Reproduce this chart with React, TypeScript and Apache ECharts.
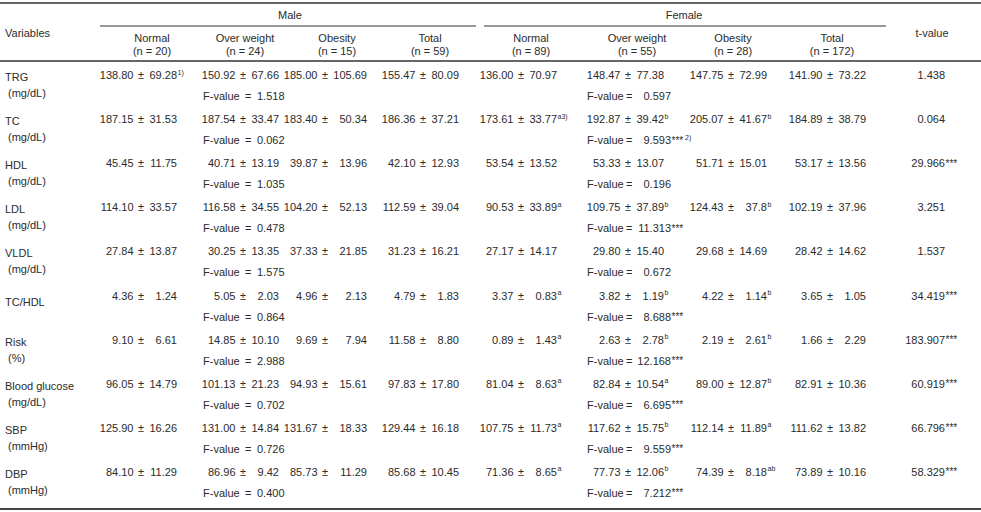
import React, { useEffect, useRef } from "react";
import * as echarts from "echarts";

const variables = ["TRG", "TC", "HDL", "LDL", "VLDL", "TC/HDL", "Risk", "Blood glucose", "SBP", "DBP"];
const units = ["(mg/dL)", "(mg/dL)", "(mg/dL)", "(mg/dL)", "(mg/dL)", "", "(%)", "(mg/dL)", "(mmHg)", "(mmHg)"];

const groupNames = ["Normal", "Over weight", "Obesity", "Total"];
const maleCounts = ["(n = 20)", "(n = 24)", "(n = 15)", "(n = 59)"];
const femaleCounts = ["(n = 89)", "(n = 55)", "(n = 28)", "(n = 172)"];

const maleNormalMean = ["138.80", "187.15", "45.45", "114.10", "27.84", "4.36", "9.10", "96.05", "125.90", "84.10"];
const maleNormalSd = ["69.28", "31.53", "11.75", "33.57", "13.87", "1.24", "6.61", "14.79", "16.26", "11.29"];
const maleNormalSup = ["1)", "", "", "", "", "", "", "", "", ""];
const maleOverMean = ["150.92", "187.54", "40.71", "116.58", "30.25", "5.05", "14.85", "101.13", "131.00", "86.96"];
const maleOverSd = ["67.66", "33.47", "13.19", "34.55", "13.35", "2.03", "10.10", "21.23", "14.84", "9.42"];
const maleObeseMean = ["185.00", "183.40", "39.87", "104.20", "37.33", "4.96", "9.69", "94.93", "131.67", "85.73"];
const maleObeseSd = ["105.69", "50.34", "13.96", "52.13", "21.85", "2.13", "7.94", "15.61", "18.33", "11.29"];
const maleTotalMean = ["155.47", "186.36", "42.10", "112.59", "31.23", "4.79", "11.58", "97.83", "129.44", "85.68"];
const maleTotalSd = ["80.09", "37.21", "12.93", "39.04", "16.21", "1.83", "8.80", "17.80", "16.18", "10.45"];
const maleF = ["1.518", "0.062", "1.035", "0.478", "1.575", "0.864", "2.988", "0.702", "0.726", "0.400"];

const femaleNormalMean = ["136.00", "173.61", "53.54", "90.53", "27.17", "3.37", "0.89", "81.04", "107.75", "71.36"];
const femaleNormalSd = ["70.97", "33.77", "13.52", "33.89", "14.17", "0.83", "1.43", "8.63", "11.73", "8.65"];
const femaleNormalSup = ["", "a3)", "", "a", "", "a", "a", "a", "a", "a"];
const femaleOverMean = ["148.47", "192.87", "53.33", "109.75", "29.80", "3.82", "2.63", "82.84", "117.62", "77.73"];
const femaleOverSd = ["77.38", "39.42", "13.07", "37.89", "15.40", "1.19", "2.78", "10.54", "15.75", "12.06"];
const femaleOverSup = ["", "b", "", "b", "", "b", "b", "a", "b", "b"];
const femaleObeseMean = ["147.75", "205.07", "51.71", "124.43", "29.68", "4.22", "2.19", "89.00", "112.14", "74.39"];
const femaleObeseSd = ["72.99", "41.67", "15.01", "37.8", "14.69", "1.14", "2.61", "12.87", "11.89", "8.18"];
const femaleObeseSup = ["", "b", "", "b", "", "b", "b", "b", "a", "ab"];
const femaleTotalMean = ["141.90", "184.89", "53.17", "102.19", "28.42", "3.65", "1.66", "82.91", "111.62", "73.89"];
const femaleTotalSd = ["73.22", "38.79", "13.56", "37.96", "14.62", "1.05", "2.29", "10.36", "13.82", "10.16"];
const femaleF = ["0.597", "9.593", "0.196", "11.313", "0.672", "8.688", "12.168", "6.695", "9.559", "7.212"];
const femaleFStars = ["", "***", "", "***", "", "***", "***", "***", "***", "***"];
const femaleFSup = ["", "2)", "", "", "", "", "", "", "", ""];
const tValues = ["1.438", "0.064", "29.966", "3.251", "1.537", "34.419", "183.907", "60.919", "66.796", "58.329"];
const tStars = ["", "", "***", "", "", "***", "***", "***", "***", "***"];

const FONT = "'Liberation Sans', Arial, sans-serif";
const INK = "#2b2b2b";
const FS = 11;

function txt(x: number, y: number, text: string, align: string = "left", size: number = FS) {
  return {
    type: "text",
    x,
    y,
    silent: true,
    style: { text, fill: INK, font: `${size}px ${FONT}`, textAlign: align, textVerticalAlign: "middle" },
  };
}

function hline(x1: number, x2: number, y: number, w: number, color: string) {
  return { type: "line", silent: true, shape: { x1, y1: y, x2, y2: y }, style: { stroke: color, lineWidth: w } };
}

export default function App() {
  const ref = useRef<HTMLDivElement>(null);
  useEffect(() => {
    if (!ref.current) return;
    const chart = echarts.init(ref.current, undefined, { renderer: "svg" });
    const els: any[] = [];

    // rules
    els.push(hline(0, 981, 3, 2, "#666"));
    els.push(hline(100, 476, 26, 1, "#333"));
    els.push(hline(484, 886, 26, 1, "#333"));
    els.push(hline(0, 981, 61, 1.5, "#333"));
    els.push(hline(0, 981, 509, 2, "#444"));

    // header
    els.push(txt(5, 33, "Variables"));
    els.push(txt(290, 15, "Male", "center"));
    els.push(txt(684, 15, "Female", "center"));
    els.push(txt(932, 33, "t-value", "center"));
    const maleHead = [152, 245, 337, 430];
    const femaleHead = [531, 637, 733, 832];
    groupNames.forEach((g, i) => {
      els.push(txt(maleHead[i], 38, g, "center"));
      els.push(txt(maleHead[i], 51, maleCounts[i], "center"));
      els.push(txt(femaleHead[i], 38, g, "center"));
      els.push(txt(femaleHead[i], 51, femaleCounts[i], "center"));
    });

    const cols = [
      { c: 141, w: 36, m: maleNormalMean, s: maleNormalSd, sup: maleNormalSup },
      { c: 243, w: 36, m: maleOverMean, s: maleOverSd, sup: null },
      { c: 325, w: 42, m: maleObeseMean, s: maleObeseSd, sup: null },
      { c: 423, w: 36, m: maleTotalMean, s: maleTotalSd, sup: null },
      { c: 521, w: 36, m: femaleNormalMean, s: femaleNormalSd, sup: femaleNormalSup },
      { c: 628, w: 36, m: femaleOverMean, s: femaleOverSd, sup: femaleOverSup },
      { c: 731, w: 36, m: femaleObeseMean, s: femaleObeseSd, sup: femaleObeseSup },
      { c: 830, w: 36, m: femaleTotalMean, s: femaleTotalSd, sup: null },
    ];

    variables.forEach((v, r) => {
      const yv = 75 + r * 44.1;
      const yf = yv + 21;
      if (units[r]) {
        els.push(txt(5, yv + 2, v));
        els.push(txt(8, yf - 3, units[r]));
      } else {
        els.push(txt(5, yv + 6, v));
      }
      cols.forEach((col) => {
        const c = col.c;
        els.push(txt(c - 7.5, yv, col.m[r], "right"));
        els.push(txt(c, yv, "\u00b1", "center"));
        els.push(txt(c + col.w, yv, col.s[r], "right"));
        if (col.sup && col.sup[r]) {
          els.push(txt(c + col.w + 0.5, yv - 3, col.sup[r], "left", 7));
        }
      });
      // male F
      els.push(txt(203, yf, "F-value", "left"));
      els.push(txt(245, yf, "=", "left"));
      els.push(txt(257, yf, maleF[r], "left"));
      // female F
      els.push(txt(587, yf, "F-value", "left"));
      els.push(txt(626, yf, "=", "left"));
      els.push(txt(671, yf, femaleF[r], "right"));
      if (femaleFStars[r]) els.push(txt(671.5, yf, femaleFStars[r], "left", 10));
      if (femaleFSup[r]) els.push(txt(685, yf - 3, femaleFSup[r], "left", 7));
      // t value
      els.push(txt(945, yv, tValues[r], "right"));
      if (tStars[r]) els.push(txt(945.5, yv, tStars[r], "left", 10));
    });

    chart.setOption({
      animation: false,
      backgroundColor: "#ffffff",
      graphic: { elements: els },
    });
    return () => chart.dispose();
  }, []);
  return <div ref={ref} style={{ position: "absolute", left: 0, top: 0, width: 981, height: 512 }} />;
}
